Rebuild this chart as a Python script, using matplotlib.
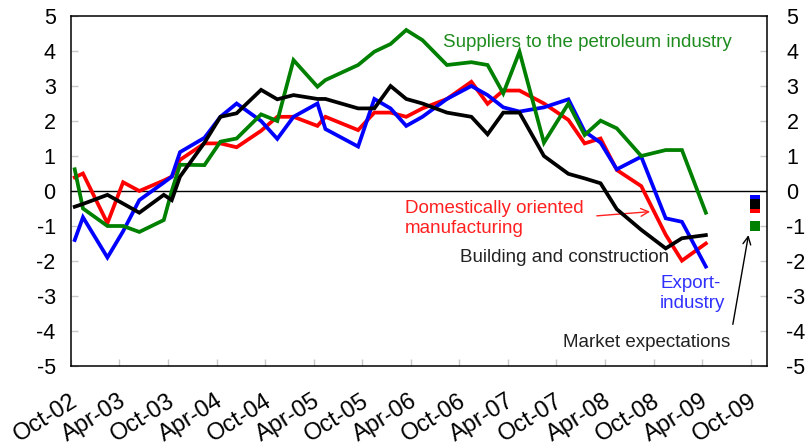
import matplotlib
matplotlib.use("Agg")
import matplotlib.pyplot as plt
import matplotlib.dates as mdates
from matplotlib.transforms import ScaledTranslation
from datetime import date

plt.rcParams['font.family'] = ['Liberation Sans', 'DejaVu Sans']
plt.rcParams['axes.unicode_minus'] = False

# ---------------- data ----------------
survey_months = ['2002-10', '2002-11', '2003-02', '2003-04', '2003-06', '2003-09',
                 '2003-10', '2003-11', '2004-02', '2004-04', '2004-06', '2004-09',
                 '2004-11', '2005-01', '2005-04', '2005-05', '2005-09', '2005-11',
                 '2006-01', '2006-03', '2006-05', '2006-08', '2006-11', '2007-01',
                 '2007-03', '2007-05', '2007-08', '2007-11', '2008-01', '2008-03',
                 '2008-05', '2008-08', '2008-11', '2009-01', '2009-04']

petroleum = [0.62, -0.50, -1.00, -1.00, -1.17, -0.83, 0.00, 0.75, 0.74, 1.41, 1.50, 2.19,
             2.00, 3.74, 2.98, 3.17, 3.60, 3.98, 4.20, 4.60, 4.31, 3.60, 3.68, 3.60,
             2.79, 3.98, 1.38, 2.50, 1.60, 2.01, 1.79, 1.00, 1.17, 1.17, -0.62]
export = [-1.40, -0.75, -1.90, -1.15, -0.26, 0.24, 0.41, 1.11, 1.52, 2.12, 2.50, 2.00,
          1.49, 2.12, 2.50, 1.77, 1.27, 2.63, 2.36, 1.86, 2.12, 2.63, 3.00, 2.74,
          2.39, 2.27, 2.39, 2.62, 1.70, 1.38, 0.62, 0.98, -0.78, -0.88, -2.16]
domestic = [0.39, 0.50, -0.92, 0.25, 0.00, 0.30, 0.41, 0.89, 1.36, 1.36, 1.25, 1.72,
            2.12, 2.12, 1.86, 2.12, 1.74, 2.24, 2.24, 2.12, 2.36, 2.63, 3.12, 2.49,
            2.87, 2.87, 2.50, 2.03, 1.36, 1.50, 0.60, 0.14, -1.25, -1.99, -1.50]
building = [-0.45, -0.37, -0.11, -0.36, -0.62, -0.11, -0.26, 0.41, 1.38, 2.12, 2.22, 2.89,
            2.62, 2.74, 2.63, 2.63, 2.36, 2.36, 3.00, 2.63, 2.50, 2.24, 2.12, 1.62,
            2.24, 2.24, 1.00, 0.49, 0.36, 0.22, -0.52, -1.11, -1.64, -1.35, -1.26]

expectation_month = '2009-10'
expect_export = -0.25
expect_domestic = -0.50
expect_building = -0.38
expect_petroleum = -1.00

tick_months = ['2002-10', '2003-04', '2003-10', '2004-04', '2004-10', '2005-04', '2005-10',
               '2006-04', '2006-10', '2007-04', '2007-10', '2008-04', '2008-10', '2009-04',
               '2009-10']
y_ticks = [5, 4, 3, 2, 1, 0, -1, -2, -3, -4, -5]

# ---------------- helpers ----------------
def mid(s):
    return date(int(s[:4]), int(s[5:]), 15)

def first(s):
    return date(int(s[:4]), int(s[5:]), 1)

ORIGIN = mdates.date2num(date(2002, 10, 1))

def mpos(m):  # fractional months after Oct-02 -> date number (layout only)
    return ORIGIN + m * 30.4375

dates = [mid(s) for s in survey_months]

BLUE, RED, GREEN, BLACK = '#0000ff', '#ff0000', '#008000', '#000000'

fig = plt.figure(figsize=(8.1, 4.48), dpi=100)
ax = fig.add_axes([71 / 810, 1 - 366 / 448, (767 - 71) / 810, (366 - 16) / 448])

lw = 2.7
ax.plot(dates, domestic, color=RED, lw=lw, zorder=3, solid_joinstyle='miter')
ax.plot(dates, export, color=BLUE, lw=lw, zorder=4, solid_joinstyle='miter')
ax.plot(dates, petroleum, color=GREEN, lw=lw, zorder=5, solid_joinstyle='miter')
ax.plot(dates, building, color=BLACK, lw=lw, zorder=6, solid_joinstyle='miter')

ed = mid(expectation_month)
ms = 7.3
ax.plot([ed], [expect_export], 's', color=BLUE, ms=ms, mew=0, zorder=7, clip_on=False)
ax.plot([ed], [expect_domestic], 's', color=RED, ms=ms, mew=0, zorder=8, clip_on=False)
ax.plot([ed], [expect_building], 's', color=BLACK, ms=ms, mew=0, zorder=9, clip_on=False)
ax.plot([ed], [expect_petroleum], 's', color=GREEN, ms=ms, mew=0, zorder=9, clip_on=False)

ax.axhline(0, color='black', lw=1.0, zorder=2)

ax.set_xlim(date(2002, 10, 1), date(2009, 12, 1))
ax.set_ylim(-5, 5)

ax.set_yticks(y_ticks)
ax.set_yticklabels([str(v) for v in y_ticks])
ax.set_xticks([first(s) for s in tick_months])
ax.set_xticklabels([first(s).strftime('%b-%y') for s in tick_months])

ax.tick_params(axis='y', direction='in', length=5, width=1, color='#c8c8c8',
               labelsize=15.5, pad=11, left=True, right=True, labelleft=True)
ax.tick_params(axis='x', direction='in', length=5, width=1, color='#c8c8c8',
               labelsize=17, pad=17)
for lbl in ax.get_xticklabels():
    lbl.set_rotation(32)
    lbl.set_ha('right')
    lbl.set_va('top')
    lbl.set_rotation_mode('anchor')
    lbl.set_transform(lbl.get_transform() + ScaledTranslation(-1 / 72, 0, fig.dpi_scale_trans))

sec = ax.secondary_yaxis('right')
sec.set_yticks(y_ticks)
sec.set_yticklabels([str(v) for v in y_ticks])
sec.tick_params(axis='y', direction='in', length=0, labelsize=15.5, pad=14)
sec.spines['right'].set_visible(False)

for sp in ax.spines.values():
    sp.set_color('black')
    sp.set_linewidth(1.1)

# ---------------- annotations ----------------
fs = 13.5
ax.text(mpos(45.93), 4.12, 'Suppliers to the petroleum industry', color='#1e8c1e',
        fontsize=fs, va='baseline', ha='left')
ax.text(mpos(41.29), -0.62, 'Domestically oriented', color='#ff2020',
        fontsize=fs, va='baseline', ha='left')
ax.text(mpos(41.29), -1.21, 'manufacturing', color='#ff2020',
        fontsize=fs, va='baseline', ha='left')
ax.text(mpos(48.08), -2.02, 'Building and construction', color='#222222',
        fontsize=fs, va='baseline', ha='left')
ax.text(mpos(72.8), -2.76, 'Export-', color='#3030ff',
        fontsize=fs, va='baseline', ha='left')
ax.text(mpos(72.8), -3.35, 'industry', color='#3030ff',
        fontsize=fs, va='baseline', ha='left')
ax.text(mpos(60.78), -4.45, 'Market expectations', color='#222222',
        fontsize=fs, va='baseline', ha='left')

ax.annotate('', xy=(mpos(71.57), -0.59), xytext=(mpos(64.98), -0.71),
            arrowprops=dict(arrowstyle='->', color='#ff2020', lw=1.0,
                            mutation_scale=14, shrinkA=0, shrinkB=0))
ax.annotate('', xy=(mpos(83.72), -1.26), xytext=(mpos(81.79), -3.81),
            arrowprops=dict(arrowstyle='->', color='black', lw=1.0,
                            mutation_scale=14, shrinkA=0, shrinkB=0))

fig.savefig('out.png', dpi=100)
